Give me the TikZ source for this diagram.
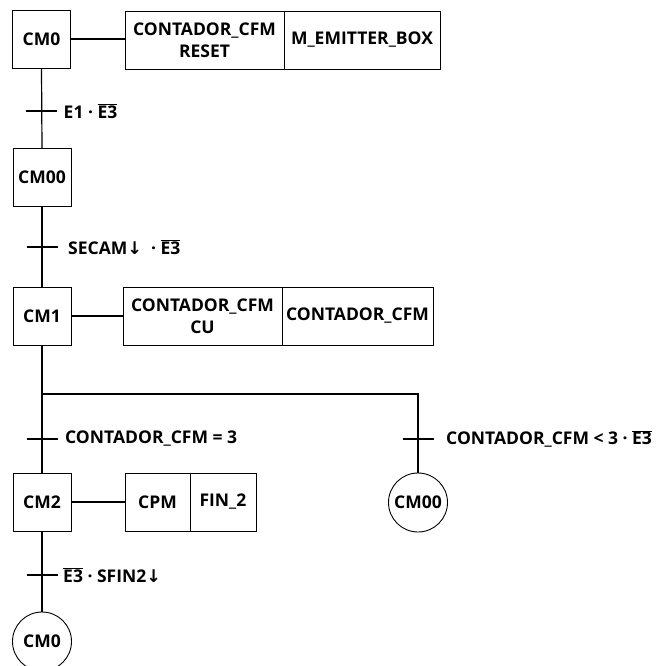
\documentclass[tikz,border=0pt]{standalone}
\usepackage{fontspec}
\setmainfont{Open Sans}
\newfontfamily\arrowfont{DejaVu Sans}
\newcommand{\ovl}[1]{$\overline{\hbox{#1}}$}
\newcommand{\dn}{{\arrowfont\bfseries ↓}}
\begin{document}
\begin{tikzpicture}[x=1pt,y=-1pt,
  every node/.style={font=\fontsize{17.5}{22}\selectfont\bfseries, inner sep=0pt},
  stepbox/.style={draw, line width=0.9pt, minimum width=58pt, minimum height=58pt},
  actbox/.style={draw, line width=0.9pt, minimum height=58pt, align=center},
  stepcirc/.style={draw, circle, line width=0.9pt, minimum size=59pt},
  link/.style={line width=1.2pt},
  tick/.style={line width=1.2pt},
  cond/.style={anchor=west}]
\useasboundingbox (0,0) rectangle (657,666);
% steps
\node[stepbox] (cm0) at (41.5,39) {CM0};
\node[actbox, minimum width=159pt] (a0a) at (204.5,40) {CONTADOR\_CFM\\RESET};
\node[actbox, minimum width=156pt] (a0b) at (362,40) {M\_EMITTER\_BOX};
\node[stepbox] (cm00) at (42,177.5) {CM00};
\node[stepbox] (cm1) at (42,316) {CM1};
\node[actbox, minimum width=159pt] (a1a) at (202.5,316) {CONTADOR\_CFM\\CU};
\node[actbox, minimum width=151pt] (a1b) at (357.5,316) {CONTADOR\_CFM};
\node[stepbox] (cm2) at (42,502) {CM2};
\node[actbox, minimum width=65pt] (a2a) at (157.5,502) {CPM};
\node[actbox, minimum width=66pt] (a2b) at (223,502) {FIN\_2};
\node[stepcirc] (j00) at (418,502.5) {CM00};
\node[stepcirc] (j0) at (42,641.5) {CM0};
% coordinates
\coordinate (t1) at (41.5,111);
\coordinate (t2) at (42,247);
\coordinate (br) at (42,394);
\coordinate (brr) at (418,394);
\coordinate (t3) at (42,439);
\coordinate (t4) at (418,439);
\coordinate (t5) at (42,575);
% links
\draw[link] (cm0.east) -- (cm0.east -| a0a.west);
\draw[link] (cm1.east) -- (cm1.east -| a1a.west);
\draw[link] (cm2.east) -- (cm2.east -| a2a.west);
\draw[link] (cm0.south) -- (cm00.north);
\draw[link] (cm00.south) -- (cm1.north);
\draw[link] (cm1.south) -- (br) -- (brr) -- (j00.north);
\draw[link] (br) -- (cm2.north);
\draw[link] (cm2.south) -- (j0.north);
% ticks
\foreach \t in {t1,t2,t3,t4,t5}
  \draw[tick] ([xshift=-15.5pt]\t) -- ([xshift=15.5pt]\t);
% conditions
\node[cond] (c1) at ([xshift=22pt]t1) {E1 · \ovl{E3}};
\node[cond] (c2) at ([xshift=26pt]t2) {SECAM\dn\ \ · \ovl{E3}};
\node[cond] (c3) at ([xshift=23pt]t3) {CONTADOR\_CFM = 3};
\node[cond] (c4) at ([xshift=28pt]t4) {CONTADOR\_CFM < 3 · \ovl{E3}};
\node[cond] (c5) at ([xshift=21pt]t5) {\ovl{E3} · SFIN2\dn};
\end{tikzpicture}
\end{document}
